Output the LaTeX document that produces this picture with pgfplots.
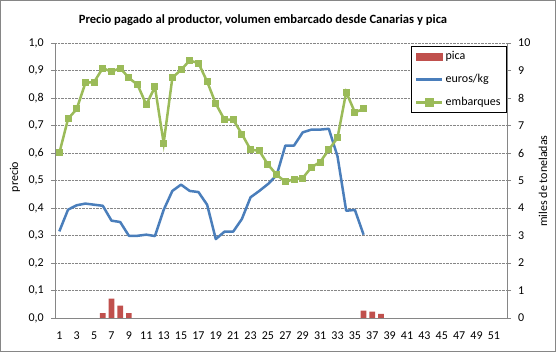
\documentclass[border=0pt]{standalone}
\usepackage{fontspec}
\setmainfont{Carlito}
\usepackage{pgfplots}
\pgfplotsset{compat=1.18}
\definecolor{cblue}{HTML}{4A7EBB}
\definecolor{cgreen}{HTML}{9BBB59}
\definecolor{cred}{HTML}{C0504D}
\definecolor{axgray}{HTML}{868686}
\pgfplotsset{
  common/.style={
    at={(55pt,34pt)}, anchor=south west, scale only axis,
    width=452pt, height=275pt,
    xmin=0.5, xmax=52.5,
    axis line style={-, draw=axgray, line width=0.8pt},
    tick align=outside, major tick length=4pt,
    /pgf/number format/assume math mode=true,
    tick label style={font=\fontsize{12pt}{14pt}\selectfont},
    label style={font=\fontsize{12pt}{14pt}\selectfont},
  }
}
\begin{document}
\fontsize{12pt}{14pt}\selectfont
\begin{tikzpicture}
\useasboundingbox (0,0) rectangle (556pt,352pt);
\draw[draw=axgray, line width=1pt] (0.5pt,0.5pt) rectangle (555.5pt,351.5pt);
\node[font=\bfseries\fontsize{12.6pt}{14pt}\selectfont] at (263pt,332pt) {Precio pagado al productor, volumen embarcado desde Canarias y pica};
\begin{axis}[common,
  ymin=0, ymax=1,
  axis y line*=left, axis x line*=bottom,
  ytick={0,0.1,0.2,0.3,0.4,0.5,0.6,0.7,0.8,0.9,1},
  yticklabel style={xshift=-3pt, /pgf/number format/.cd, fixed, fixed zerofill, precision=1, use comma},
  xtick={1,3,...,51},
  xticklabel style={yshift=-6pt},
  xtick style={draw=none},
  ytick style={draw=axgray, line width=0.8pt},
  ymajorgrids, grid style={densely dotted, draw=axgray, line width=0.8pt},
  ylabel={precio},
  ylabel style={at={(axis description cs:-0.0885,0.513)}, anchor=center, rotate=0},
]
\addplot[ybar, bar width=5.7pt, fill=cred, draw=none] coordinates {
 (6,0.018) (7,0.07) (8,0.045) (9,0.018) (36,0.027) (37,0.023) (38,0.015)};
\addplot[cblue, line width=2.5pt, line join=round] coordinates {
 (1,0.315) (2,0.394) (3,0.41) (4,0.416) (5,0.412) (6,0.408) (7,0.354) (8,0.349)
 (9,0.299) (10,0.299) (11,0.303) (12,0.298) (13,0.393) (14,0.462) (15,0.485)
 (16,0.462) (17,0.458) (18,0.412) (19,0.287) (20,0.314) (21,0.314) (22,0.36)
 (23,0.439) (24,0.462) (25,0.487) (26,0.519) (27,0.627) (28,0.627) (29,0.675)
 (30,0.685) (31,0.685) (32,0.688) (33,0.588) (34,0.39) (35,0.393) (36,0.303)};
\end{axis}
\begin{axis}[common,
  ymin=0, ymax=10,
  axis y line*=right, axis x line=none,
  ytick={0,1,...,10},
  yticklabel style={xshift=3pt},
  ytick style={draw=axgray, line width=0.8pt},
  ylabel={miles de toneladas},
  ylabel style={at={(axis description cs:1.0796,0.498)}, anchor=center, rotate=0},
  legend style={at={(1,0.989)}, anchor=north east, draw=black, line width=0.8pt,
    font=\fontsize{12pt}{14pt}\selectfont, row sep=9pt, inner xsep=4pt, inner ysep=3pt},
  legend cell align=left,
]
\addlegendimage{legend image code/.code={\fill[cred] (0pt,-3.5pt) rectangle (26pt,3.5pt);}}
\addlegendentry{pica}
\addlegendimage{legend image code/.code={\draw[cblue, line width=2.5pt] (0pt,0pt) -- (26pt,0pt);}}
\addlegendentry{euros/kg}
\addplot[cgreen, line width=2.5pt, mark=square*, mark size=3pt, mark options={fill=cgreen, line width=0pt},
  legend image code/.code={\draw[cgreen, line width=2.5pt] (0pt,0pt) -- (26pt,0pt); \fill[cgreen] (10pt,-3pt) rectangle (16pt,3pt);}] coordinates {
 (1,6.0) (2,7.24) (3,7.6) (4,8.55) (5,8.58) (6,9.09) (7,8.95) (8,9.09) (9,8.73)
 (10,8.48) (11,7.76) (12,8.4) (13,6.36) (14,8.73) (15,9.03) (16,9.36) (17,9.27)
 (18,8.6) (19,7.79) (20,7.21) (21,7.21) (22,6.69) (23,6.12) (24,6.08) (25,5.58)
 (26,5.21) (27,4.95) (28,5.05) (29,5.09) (30,5.48) (31,5.67) (32,6.12) (33,6.55)
 (34,8.21) (35,7.48) (36,7.6)};
\addlegendentry{embarques}
\end{axis}
\end{tikzpicture}
\end{document}
